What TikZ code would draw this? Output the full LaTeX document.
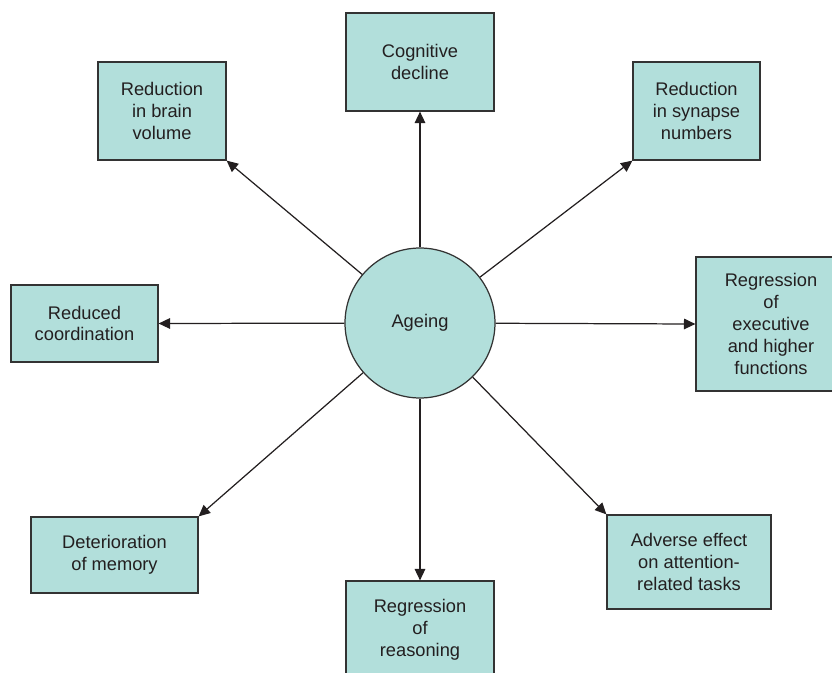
\documentclass[tikz,border=0pt]{standalone}
\usepackage{fontspec}
\setmainfont{Liberation Sans}
\usetikzlibrary{arrows.meta}
\definecolor{boxfill}{HTML}{B2DFDB}
\definecolor{boxline}{HTML}{333333}
\definecolor{txt}{HTML}{231F20}
\tikzset{
  effect/.style={draw=boxline, line width=0.7pt, fill=boxfill, align=center, inner sep=2pt,
    text=txt, font=\fontsize{10.4}{12.4}\selectfont},
  hub/.style={circle, draw=boxline, line width=0.7pt, fill=boxfill, minimum size=3cm,
    text=txt, font=\fontsize{10.4}{12.4}\selectfont},
  arr/.style={draw=txt, line width=0.7pt, -{Triangle[length=6.5pt,width=6pt]}}
}
\begin{document}
\begin{tikzpicture}[x=0.02cm,y=-0.02cm]
\useasboundingbox (0,0) rectangle (832,673);
\clip (0,0) rectangle (832,673);
\node[hub] (ag) at (420,323) {Ageing};
\node[effect, minimum width=2.96cm, minimum height=1.96cm] (cog) at (420,62) {Cognitive\\decline};
\node[effect, minimum width=2.56cm, minimum height=1.96cm] (brain) at (162,111) {Reduction\\in brain\\volume};
\node[effect, minimum width=2.54cm, minimum height=1.96cm] (syn) at (696.5,111) {Reduction\\in synapse\\numbers};
\node[effect, minimum width=2.94cm, minimum height=1.54cm] (coord) at (84.5,323.5) {Reduced\\coordination};
\node[effect, minimum width=3.00cm, minimum height=2.68cm] (exec) at (771,324) {Regression\\of\\executive\\and higher\\functions};
\node[effect, minimum width=3.34cm, minimum height=1.52cm] (mem) at (114.5,555) {Deterioration\\of memory};
\node[effect, minimum width=2.96cm, minimum height=1.96cm] (reas) at (420,630) {Regression\\of\\reasoning};
\node[effect, minimum width=3.28cm, minimum height=1.88cm] (att) at (689,562) {Adverse effect\\on attention-\\related tasks};
\draw[arr] (ag) -- (cog.south);
\draw[arr] (ag) -- (brain.south east);
\draw[arr] (ag) -- (syn.south west);
\draw[arr] (ag) -- (coord.east);
\draw[arr] (ag) -- (exec.west);
\draw[arr] (ag) -- (mem.north east);
\draw[arr] (ag) -- (reas.north);
\draw[arr] (ag) -- (att.north west);
\end{tikzpicture}
\end{document}
